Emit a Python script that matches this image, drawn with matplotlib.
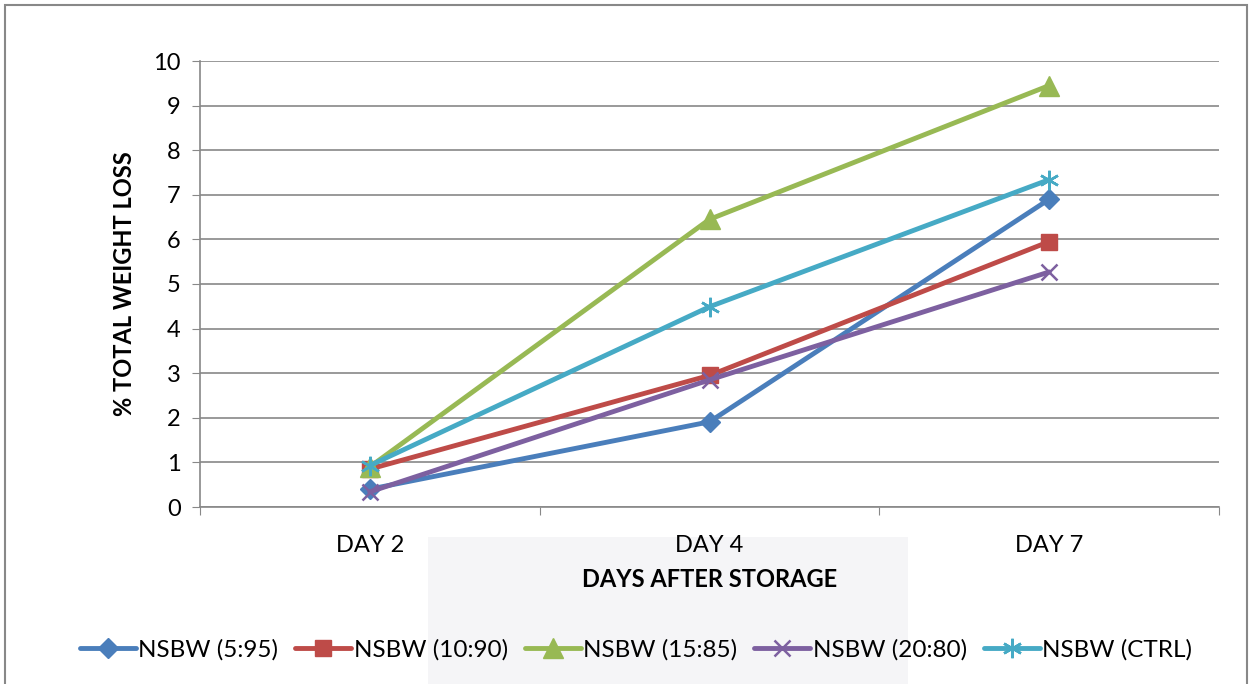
import matplotlib.pyplot as plt
import matplotlib.patches as mpatches
import numpy as np

plt.rcParams['font.family'] = ['Lato', 'DejaVu Sans']

# datos del grafico
days = ["DAY 2", "DAY 4", "DAY 7"]
nsbw_5_95 = [0.40, 1.91, 6.90]
nsbw_10_90 = [0.85, 2.95, 5.95]
nsbw_15_85 = [0.90, 6.45, 9.45]
nsbw_20_80 = [0.34, 2.85, 5.27]
nsbw_ctrl = [0.93, 4.49, 7.34]

labels = ["NSBW (5:95)", "NSBW (10:90)", "NSBW (15:85)", "NSBW (20:80)", "NSBW (CTRL)"]
series = [nsbw_5_95, nsbw_10_90, nsbw_15_85, nsbw_20_80, nsbw_ctrl]
colors = ["#4a7ebb", "#be4b48", "#98b954", "#7d60a0", "#46aac5"]
markers = ["D", "s", "^", "x", "*"]
msizes = [10, 12, 14, 12, 14]

fig = plt.figure(figsize=(12.54, 6.84), dpi=100)

# marca de agua tenue y borde de la figura
fig.patches.append(mpatches.Rectangle((428/1254, 0), 480/1254, 147/684, transform=fig.transFigure,
                                      facecolor="#f5f5f7", edgecolor="none", zorder=-5))
fig.patches.append(mpatches.Rectangle((5/1254, -0.01), 1242/1254, 1 - 5/684 + 0.01, transform=fig.transFigure,
                                      facecolor="none", edgecolor="#888888", linewidth=1.5, zorder=-4))

ax = fig.add_axes([200/1254, 1 - 507/684, 1019/1254, 446/684])
ax.set_facecolor("none")
x = np.arange(len(days))

for ys, lab, c, m, ms in zip(series, labels, colors, markers, msizes):
    if m in ("x", "*"):
        mk = "x" if m == "x" else (6, 2, 0)
        ax.plot(x, ys, color=c, linewidth=3.5, marker=mk, markersize=ms,
                markeredgewidth=1.8, markeredgecolor=c, label=lab, solid_capstyle="round")
    else:
        ax.plot(x, ys, color=c, linewidth=3.5, marker=m, markersize=ms,
                markeredgecolor=c, label=lab, solid_capstyle="round")

ax.set_xlim(-0.5, 2.5)
ax.set_ylim(0, 10)
ax.set_yticks(range(0, 11))
ax.yaxis.grid(True, color="#888888", linewidth=1.2)
ax.set_axisbelow(True)
ax.set_xticks([-0.5, 0.5, 1.5, 2.5])
ax.set_xticklabels([])
ax.set_xticks(x, minor=True)
ax.set_xticklabels(days, minor=True, fontsize=17)
ax.tick_params(axis="x", which="minor", length=0, pad=20)
ax.tick_params(axis="x", which="major", length=6, color="#888888")
ax.tick_params(axis="y", length=6, color="#888888", labelsize=17, pad=8)
for s in ["top", "right"]:
    ax.spines[s].set_visible(False)
for s in ["left", "bottom"]:
    ax.spines[s].set_color("#888888")
    ax.spines[s].set_linewidth(1.2)

ax.set_ylabel("% TOTAL WEIGHT LOSS", fontsize=17, fontweight="bold", labelpad=12)
ax.set_xlabel("DAYS AFTER STORAGE", fontsize=17, fontweight="bold", labelpad=9)

h, l = ax.get_legend_handles_labels()
fig.legend(h, l, loc="center", bbox_to_anchor=(636/1254, 1 - 650/684), ncol=5, frameon=False,
           fontsize=17.5, handlelength=2.3, handletextpad=0.1, columnspacing=0.7)

plt.savefig("out.png", dpi=100)
